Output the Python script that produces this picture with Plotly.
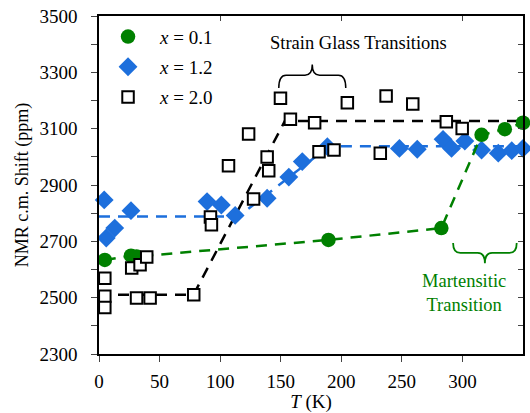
import plotly.graph_objects as go

# ---- data: NMR centre-of-mass shift vs temperature ----
# x = 0.1
t_01 = [4.8, 26.4, 31.0, 189.4, 282.6, 315.8, 335.0, 350.0]
s_01 = [2634, 2649, 2646, 2705, 2747, 3078, 3098, 3121]

# x = 1.2
t_12 = [4.3, 6.0, 13.0, 26.4, 89.2, 101.0, 112.4, 138.8, 156.7, 167.8, 188.5,
        248.0, 262.7, 284.0, 291.0, 302.0, 315.8, 329.6, 340.7, 350.0]
s_12 = [2847, 2712, 2747, 2809, 2841, 2829, 2792, 2853, 2928, 2983, 3036,
        3030, 3027, 3062, 3030, 3056, 3024, 3013, 3022, 3030]

# x = 2.0
t_20 = [4.8, 4.8, 4.8, 27.0, 31.0, 33.9, 39.4, 42.2, 78.2, 92.0, 92.8, 106.9,
        123.5, 127.6, 138.8, 140.1, 149.8, 158.0, 178.0, 181.6, 194.0, 205.0,
        232.2, 237.0, 259.0, 286.7, 299.8]
s_20 = [2569, 2505, 2465, 2605, 2499, 2617, 2644, 2499, 2510, 2786, 2759, 2968,
        3081, 2850, 2999, 2951, 3208, 3133, 3121, 3018, 3024, 3192,
        3013, 3216, 3188, 3125, 3101]

# guide lines (plateau - ramp - plateau)
guide_t_12 = [0, 115, 190, 350]
guide_s_12 = [2788, 2788, 3038, 3038]
guide_t_20 = [0, 78, 153.4, 350]
guide_s_20 = [2510, 2510, 3127, 3127]

x_ticks = [0, 50, 100, 150, 200, 250, 300]
y_ticks = [2300, 2500, 2700, 2900, 3100, 3300, 3500]

GREEN = "#008000"
BLUE = "#1d6fdc"
FONT = "Liberation Serif"
DASH = "11px,8px"

fig = go.Figure()

fig.add_trace(go.Scatter(x=guide_t_12, y=guide_s_12, mode="lines",
                         line=dict(color=BLUE, width=2.5, dash=DASH),
                         showlegend=False, hoverinfo="skip"))
fig.add_trace(go.Scatter(x=guide_t_20, y=guide_s_20, mode="lines",
                         line=dict(color="black", width=2.5, dash=DASH),
                         showlegend=False, hoverinfo="skip"))

fig.add_trace(go.Scatter(x=t_12, y=s_12, mode="markers", name="<i>x</i> = 1.2",
                         legendgroup="b", legendrank=2,
                         marker=dict(symbol="diamond", size=14.5, color=BLUE,
                                     line=dict(width=0)),
                         cliponaxis=False))
# x = 0.1 points are joined by a dashed line
fig.add_trace(go.Scatter(x=t_01, y=s_01, mode="lines",
                         line=dict(color=GREEN, width=2.5, dash=DASH),
                         showlegend=False, hoverinfo="skip"))
fig.add_trace(go.Scatter(x=t_01, y=s_01, mode="markers", name="<i>x</i> = 0.1",
                         legendgroup="a", legendrank=1,
                         marker=dict(symbol="circle", size=14.5, color=GREEN,
                                     line=dict(width=0)),
                         cliponaxis=False))
fig.add_trace(go.Scatter(x=t_20, y=s_20, mode="markers", name="<i>x</i> = 2.0",
                         legendgroup="c", legendrank=3,
                         marker=dict(symbol="square", size=11.5, color="white",
                                     line=dict(width=2, color="black")),
                         cliponaxis=False))

# empty trace to carry the mirrored (inside-tick) axes
fig.add_trace(go.Scatter(x=[], y=[], xaxis="x2", yaxis="y2",
                         showlegend=False, hoverinfo="skip"))


def brace_path(x0, x1, y_end, y_bar, y_tip, rx):
    """Curly brace between x0 and x1; ends at y_end, bar at y_bar, point at y_tip."""
    xm = (x0 + x1) / 2
    return (f"M {x0},{y_end} Q {x0},{y_bar} {x0 + rx},{y_bar} "
            f"L {xm - rx},{y_bar} Q {xm},{y_bar} {xm},{y_tip} "
            f"Q {xm},{y_bar} {xm + rx},{y_bar} "
            f"L {x1 - rx},{y_bar} Q {x1},{y_bar} {x1},{y_end}")


fig.add_shape(type="path", xref="x", yref="y",
              path=brace_path(148.4, 203.7, 3244, 3290, 3328, 6),
              line=dict(color="black", width=1.5))
fig.add_shape(type="path", xref="x", yref="y",
              path=brace_path(292.3, 344.8, 2694, 2659, 2622, 6),
              line=dict(color=GREEN, width=1.8))

fig.add_annotation(x=214, y=3403, xref="x", yref="y", text="Strain Glass Transitions",
                   showarrow=False, font=dict(family=FONT, size=18.5, color="black"))
fig.add_annotation(x=301.7, y=2516, xref="x", yref="y", text="Martensitic<br>Transition",
                   showarrow=False, font=dict(family=FONT, size=18.5, color=GREEN))

fig.update_layout(
    width=530, height=413,
    margin=dict(l=99, r=7, t=16, b=59, autoexpand=False),
    paper_bgcolor="white", plot_bgcolor="white",
    font=dict(family=FONT, size=19, color="black"),
    showlegend=True,
    legend=dict(x=-0.007, y=0.995, xanchor="left", yanchor="top",
                bgcolor="rgba(0,0,0,0)", tracegroupgap=2.5, itemwidth=54,
                font=dict(family=FONT, size=19)),
    xaxis=dict(range=[0, 350], tickvals=x_ticks, ticks="outside", ticklen=6,
               tickwidth=1.2, showline=True, linecolor="black", linewidth=1.5,
               mirror=True, showgrid=False, zeroline=False, automargin=False,
               ticklabelstandoff=3, tickfont=dict(family=FONT, size=19),
               title=dict(text="<i>T</i> (K)", standoff=13,
                          font=dict(family=FONT, size=19))),
    yaxis=dict(range=[2300, 3500], tickvals=y_ticks, ticks="outside", ticklen=6,
               tickwidth=1.2, showline=True, linecolor="black", linewidth=1.5,
               mirror=True, showgrid=False, zeroline=False, automargin=False,
               ticklabelstandoff=10, tickfont=dict(family=FONT, size=19),
               minor=dict(dtick=100, ticks="outside", ticklen=6, tickwidth=1.2),
               title=dict(text="NMR c.m. Shift (ppm)", standoff=6,
                          font=dict(family=FONT, size=18))),
    xaxis2=dict(range=[0, 350], overlaying="x", side="top", dtick=100, tick0=0,
                ticks="inside", ticklen=5, tickwidth=1.2, showticklabels=False,
                showgrid=False, zeroline=False, showline=False, automargin=False),
    yaxis2=dict(range=[2300, 3500], overlaying="y", side="right", dtick=100, tick0=2300,
                ticks="inside", ticklen=5, tickwidth=1.2, showticklabels=False,
                showgrid=False, zeroline=False, showline=False, automargin=False),
)

fig.write_html("out.html")
